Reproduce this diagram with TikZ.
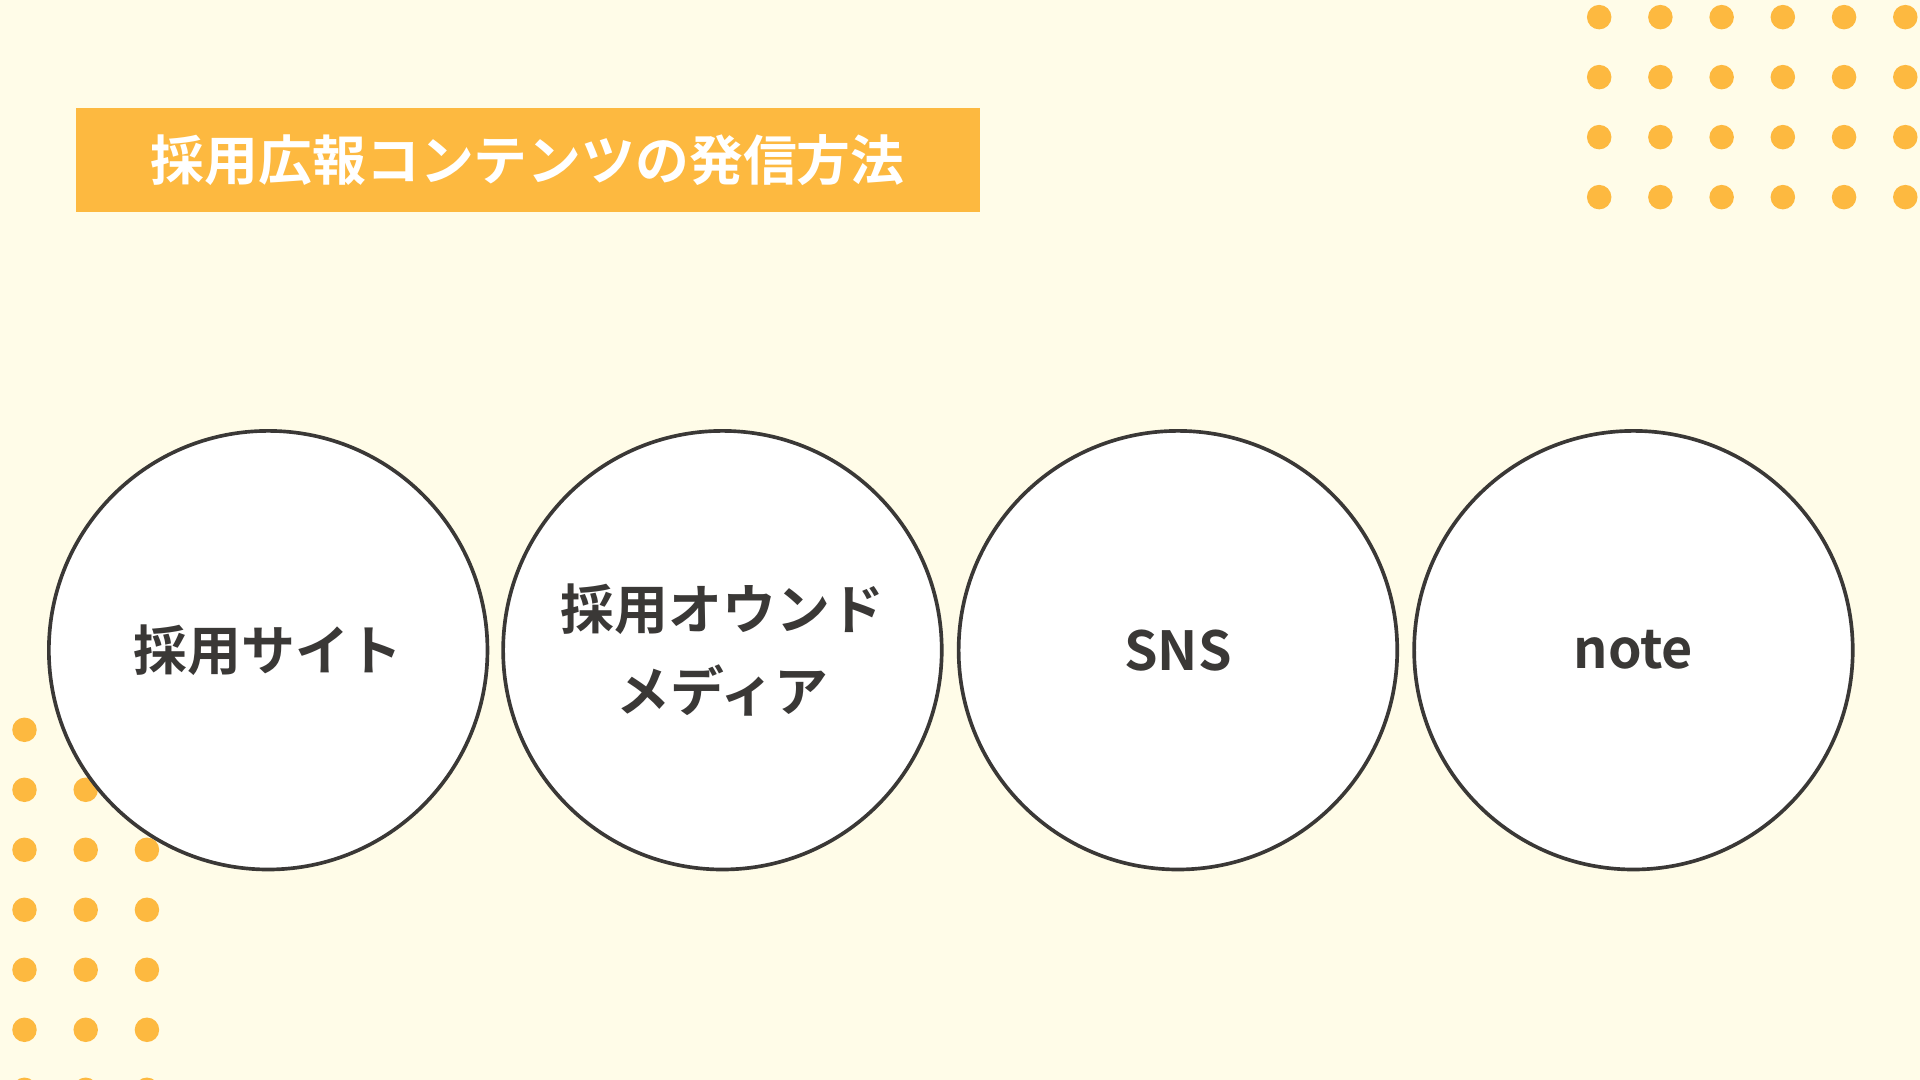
\documentclass[tikz,border=0pt]{standalone}
\usepackage{fontspec}
\newfontfamily\cjk{Noto Sans CJK JP}[BoldFont={* Bold}]
\definecolor{bg}{HTML}{FFFCE8}
\definecolor{dot}{HTML}{FDB940}
\definecolor{ink}{HTML}{3A3836}
\begin{document}
\begin{tikzpicture}[x=0.01cm,y=-0.01cm,
  dotc/.style={fill=dot,draw=none},
  bubble/.style={circle,draw=ink,line width=0.85pt,fill=white,minimum size=3.58cm,inner sep=0pt,align=center,font=\cjk\bfseries\fontsize{12.5}{19}\selectfont,text=ink}]
\fill[bg] (0,0) rectangle (1568,882);
\useasboundingbox (0,0) rectangle (1568,882);
\foreach \x in {1306,1356,1406,1456,1506,1556}
  \foreach \y in {14,63,112,161} \fill[dotc] (\x,\y) circle (10);
\foreach \x in {20,70,120}
  \foreach \y in {596,645,694,743,792,841,890} \fill[dotc] (\x,\y) circle (10);
\node[fill=dot,minimum width=7.38cm,minimum height=0.85cm,inner sep=0pt,text=white,font=\cjk\bfseries\fontsize{12.5}{15}\selectfont] (title) at (431,130.5) {採用広報コンテンツの発信方法};
\node[bubble] (a) at (219,531) {採用サイト};
\node[bubble] (b) at (590,531) {採用オウンド\\メディア};
\node[bubble] (c) at (962,531) {SNS};
\node[bubble] (d) at (1334,531) {note};
\end{tikzpicture}
\end{document}
